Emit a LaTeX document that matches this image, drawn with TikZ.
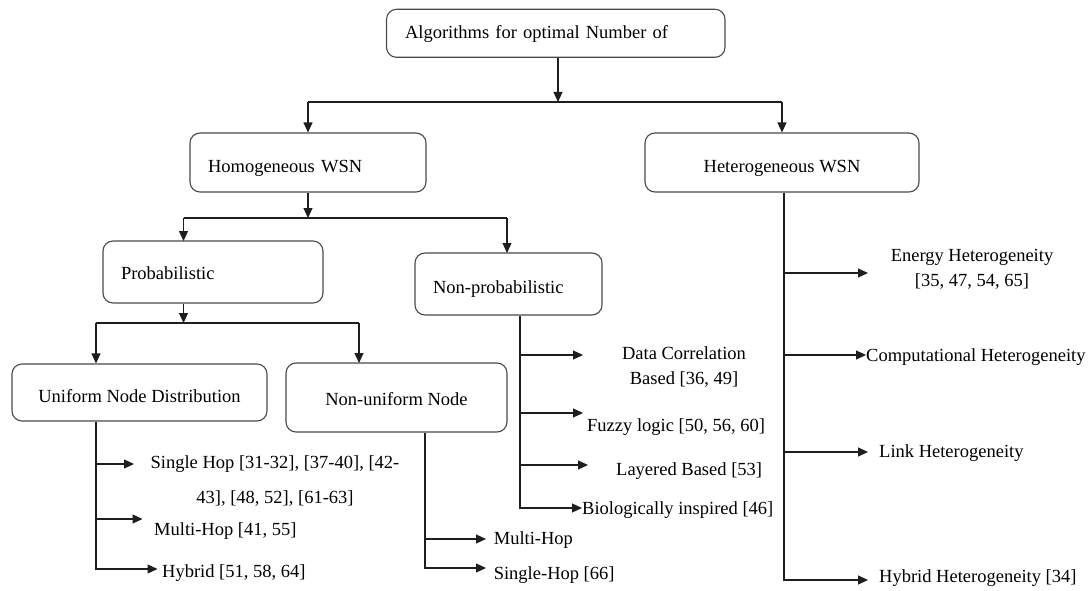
\documentclass[tikz,border=0pt]{standalone}
\usepackage{fontspec}
\setmainfont{Liberation Serif}
\usetikzlibrary{arrows.meta,calc}
\definecolor{ink}{HTML}{1E1E1E}
\definecolor{frame}{HTML}{4A4A4A}

\tikzset{
  box/.style={draw=frame, rounded corners=10pt, line width=1.1pt, text height=2.1em, text depth=0.2em},
  leaf/.style={inner sep=0pt, anchor=west},
  wire/.style={draw=ink, line width=1.2pt},
  arr/.style={wire, -{Triangle[length=10pt,width=9pt]}}
}

\begin{document}
\begin{tikzpicture}[x=1pt, y=-1pt, font=\fontsize{18.5}{22}\selectfont]
  \useasboundingbox (0,0) rectangle (1090,591);

  % boxes
  \node[box, minimum width=338.5pt, minimum height=48pt, text width=301.5pt, inner xsep=18.5pt, align=left, text height=1.2em] (alg) at (555.75,33.3) {Algorithms for optimal Number of};
  \node[box, minimum width=236pt, minimum height=59pt, text width=200pt, inner xsep=18pt, align=left] (homo) at (308,162.5) {Homogeneous WSN};
  \node[box, minimum width=274pt, minimum height=59pt] (hetero) at (782,162.5) {Heterogeneous WSN};
  \node[box, minimum width=220pt, minimum height=62pt, text width=184pt, inner xsep=18pt, align=left, text height=1.7em] (prob) at (213,272) {Probabilistic};
  \node[box, minimum width=187pt, minimum height=62pt, text width=151pt, inner xsep=18pt, align=left] (nonprob) at (508.5,284) {Non-probabilistic};
  \node[box, minimum width=255pt, minimum height=57pt] (uniform) at (139.5,392.5) {Uniform Node Distribution};
  \node[box, minimum width=221pt, minimum height=69pt, text height=1.7em] (nonuniform) at (396.5,397.5) {Non-uniform Node};

  % leaves
  \node[leaf, anchor=center, align=center] (singlehop) at (275,481.5) {Single Hop [31-32], [37-40], [42-\\[13pt]43], [48, 52], [61-63]};
  \node[leaf] (multihop) at (154,531) {Multi-Hop [41, 55]};
  \node[leaf] (hybrid) at (162,573) {Hybrid [51, 58, 64]};
  \node[leaf] (nmultihop) at (493.6,540) {Multi-Hop};
  \node[leaf] (nsinglehop) at (493.6,575) {Single-Hop [66]};
  \node[leaf, anchor=center, align=center] (datacorr) at (684,367.5) {Data Correlation\\[3pt]Based [36, 49]};
  \node[leaf] (fuzzy) at (587,427) {Fuzzy logic [50, 56, 60]};
  \node[leaf] (layered) at (616,471) {Layered Based [53]};
  \node[leaf] (bio) at (582,510) {Biologically inspired [46]};
  \node[leaf, anchor=center, align=center] (energy) at (972,269.5) {Energy Heterogeneity\\[3pt][35, 47, 54, 65]};
  \node[leaf] (comp) at (866,357) {Computational Heterogeneity};
  \node[leaf] (linkhet) at (879,453) {Link Heterogeneity};
  \node[leaf] (hybridhet) at (879,578) {Hybrid Heterogeneity [34]};

  % split points and trunk ends
  \coordinate (b1) at (558,102);
  \coordinate (b2) at (308,218);
  \coordinate (b3) at (183.5,323);
  \coordinate (pin) at (183.5,241);
  \coordinate (npin) at (507,253);
  \coordinate (nin) at (359,363);
  \coordinate (ub) at (96,569);
  \coordinate (nb) at (425,568);
  \coordinate (pb) at (520,508);
  \coordinate (hb) at (784,580);

  % arrow tips
  \coordinate (sh-tip) at (134,464);
  \coordinate (mh-tip) at (142.5,519);
  \coordinate (hy-tip) at (157.5,569);
  \coordinate (nm-tip) at (486,539);
  \coordinate (ns-tip) at (486,568);
  \coordinate (dc-tip) at (583,355);
  \coordinate (fz-tip) at (583,413);
  \coordinate (ly-tip) at (588,465);
  \coordinate (bi-tip) at (582,508);
  \coordinate (en-tip) at (868,273);
  \coordinate (co-tip) at (866,355);
  \coordinate (li-tip) at (868,452);
  \coordinate (hh-tip) at (868,580);

  % top split
  \draw[arr] (alg.south -| b1) -- (b1);
  \draw[wire] (homo.north |- b1) -- (hetero.north |- b1);
  \draw[arr] (homo.north |- b1) -- (homo.north);
  \draw[arr] (hetero.north |- b1) -- (hetero.north);

  % homogeneous split
  \draw[arr] (homo.south) -- (b2);
  \draw[wire] (pin |- b2) -- (npin |- b2);
  \draw[arr] (pin |- b2) -- (pin);
  \draw[arr] (npin |- b2) -- (npin);

  % probabilistic split
  \draw[arr] (pin |- prob.south) -- (b3);
  \draw[wire] (ub |- b3) -- (nin |- b3);
  \draw[arr] (ub |- b3) -- (ub |- uniform.north);
  \draw[arr] (nin |- b3) -- (nin);

  % uniform branches
  \draw[arr] (uniform.south -| ub) |- (hy-tip);
  \draw[arr] (ub |- sh-tip) -- (sh-tip);
  \draw[arr] (ub |- mh-tip) -- (mh-tip);

  % non-uniform branches
  \draw[arr] (nonuniform.south -| nb) |- (ns-tip);
  \draw[arr] (nb |- nm-tip) -- (nm-tip);

  % non-probabilistic branches
  \draw[arr] (nonprob.south -| pb) |- (bi-tip);
  \draw[arr] (pb |- dc-tip) -- (dc-tip);
  \draw[arr] (pb |- fz-tip) -- (fz-tip);
  \draw[arr] (pb |- ly-tip) -- (ly-tip);

  % heterogeneous branches
  \draw[arr] (hetero.south -| hb) |- (hh-tip);
  \draw[arr] (hb |- en-tip) -- (en-tip);
  \draw[arr] (hb |- co-tip) -- (co-tip);
  \draw[arr] (hb |- li-tip) -- (li-tip);
\end{tikzpicture}
\end{document}
